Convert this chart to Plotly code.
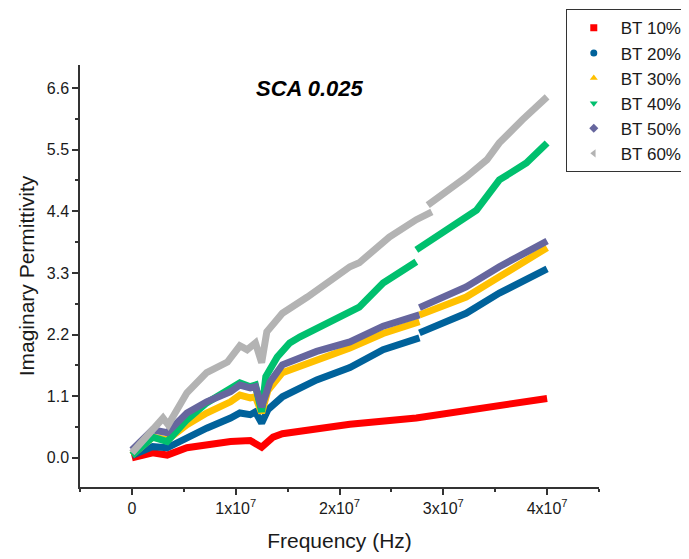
import plotly.graph_objects as go

# ---- data ----
x_bt10 = [0, 2.0e6, 3.4e6, 5.3e6, 9.5e6, 1.14e7, 1.25e7, 1.36e7, 1.45e7, 2.1e7, 2.74e7, 3.38e7, 4.0e7]
y_bt10 = [0.0, 0.09, 0.05, 0.18, 0.29, 0.31, 0.19, 0.37, 0.43, 0.60, 0.71, 0.88, 1.06]

x_bt20 = [0, 2.0e6, 3.4e6, 5.3e6, 7.2e6, 9.5e6, 1.04e7, 1.14e7, 1.19e7, 1.25e7, 1.31e7, 1.45e7,
          1.78e7, 2.1e7, 2.42e7, 2.77e7, None, 2.77e7, 3.22e7, 3.54e7, 4.0e7]
y_bt20 = [0.04, 0.20, 0.18, 0.37, 0.53, 0.71, 0.80, 0.77, 0.82, 0.62, 0.86, 1.09,
          1.39, 1.61, 1.93, 2.14, None, 2.23, 2.58, 2.94, 3.37]

x_bt30 = [0, 2.0e6, 3.4e6, 5.3e6, 7.2e6, 9.5e6, 1.04e7, 1.14e7, 1.19e7, 1.25e7, 1.31e7, 1.45e7,
          2.1e7, 2.42e7, 2.77e7, None, 2.77e7, 3.22e7, 3.54e7, 4.0e7]
y_bt30 = [0.05, 0.37, 0.32, 0.59, 0.80, 1.00, 1.12, 1.07, 1.09, 0.80, 1.20, 1.52,
          1.96, 2.22, 2.43, None, 2.55, 2.87, 3.23, 3.75]

x_bt40 = [0, 2.0e6, 3.4e6, 5.3e6, 7.2e6, 9.5e6, 1.04e7, 1.14e7, 1.19e7, 1.25e7, 1.29e7, 1.40e7,
          1.52e7, 1.62e7, 1.94e7, 2.13e7, 2.19e7, 2.42e7, 2.74e7, None, 2.74e7, 3.06e7, 3.32e7,
          3.54e7, 3.80e7, 4.0e7]
y_bt40 = [0.05, 0.37, 0.29, 0.68, 0.98, 1.25, 1.34, 1.27, 1.30, 0.82, 1.45, 1.80,
          2.05, 2.16, 2.46, 2.64, 2.69, 3.12, 3.50, None, 3.71, 4.12, 4.42,
          4.96, 5.26, 5.62]

x_bt50 = [0, 2.0e6, 3.4e6, 5.3e6, 7.2e6, 9.5e6, 1.04e7, 1.14e7, 1.19e7, 1.25e7, 1.33e7, 1.45e7,
          1.78e7, 2.1e7, 2.42e7, 2.77e7, None, 2.77e7, 3.22e7, 3.54e7, 4.0e7]
y_bt50 = [0.14, 0.50, 0.45, 0.80, 1.00, 1.18, 1.30, 1.25, 1.27, 0.91, 1.35, 1.66,
          1.90, 2.07, 2.35, 2.55, None, 2.68, 3.05, 3.41, 3.87]

x_bt60 = [0, 2.0e6, 3.0e6, 3.5e6, 5.3e6, 7.2e6, 9.2e6, 1.04e7, 1.11e7, 1.19e7, 1.25e7, 1.30e7,
          1.45e7, 1.69e7, 2.10e7, 2.19e7, 2.48e7, 2.74e7, 2.89e7, None, 2.85e7, 3.22e7, 3.42e7,
          3.54e7, 3.76e7, 4.0e7]
y_bt60 = [0.09, 0.50, 0.71, 0.59, 1.16, 1.52, 1.71, 2.00, 1.93, 2.05, 1.70, 2.25,
          2.58, 2.87, 3.41, 3.48, 3.94, 4.25, 4.39, None, 4.51, 5.01, 5.32,
          5.62, 6.03, 6.44]

series_names = ["BT 10%", "BT 20%", "BT 30%", "BT 40%", "BT 50%", "BT 60%"]
x_ticks = [0, 1e7, 2e7, 3e7, 4e7]
x_tick_labels = ["0", "1x10<sup>7</sup>", "2x10<sup>7</sup>", "3x10<sup>7</sup>", "4x10<sup>7</sup>"]
y_ticks = [0.0, 1.1, 2.2, 3.3, 4.4, 5.5, 6.6]
y_tick_labels = ["0.0", "1.1", "2.2", "3.3", "4.4", "5.5", "6.6"]

colors = ["#FF0000", "#00629B", "#FFC000", "#00C06E", "#66669E", "#B3B3B3"]
symbols = ["square", "circle", "triangle-up", "triangle-down", "diamond", "triangle-left"]
xs = [x_bt10, x_bt20, x_bt30, x_bt40, x_bt50, x_bt60]
ys = [y_bt10, y_bt20, y_bt30, y_bt40, y_bt50, y_bt60]

fig = go.Figure()
for name, x, y, c in zip(series_names, xs, ys, colors):
    fig.add_trace(go.Scatter(x=x, y=y, mode="lines", name=name, showlegend=False,
                             line=dict(color=c, width=7), connectgaps=False, hoverinfo="skip"))
for name, c, s in zip(series_names, colors, symbols):
    fig.add_trace(go.Scatter(x=[None], y=[None], mode="markers", name=name,
                             marker=dict(color=c, symbol=s, size=7)))

axis_color = "#333333"
fig.update_layout(
    width=689, height=559,
    margin=dict(l=72, r=98, t=57, b=80, autoexpand=False),
    paper_bgcolor="white", plot_bgcolor="white",
    font=dict(family="Liberation Sans, Arial, sans-serif", color="#1a1a1a"),
    showlegend=True,
    legend=dict(x=0.936, y=1.132, xanchor="left", yanchor="top",
                bordercolor="#333333", borderwidth=1, bgcolor="white", itemwidth=44,
                entrywidth=120, entrywidthmode="pixels",
                font=dict(size=17, color="#1a1a1a"), tracegroupgap=0),
    xaxis=dict(range=[-5e6, 4.5e7], tickmode="array", tickvals=x_ticks, ticktext=x_tick_labels,
               ticks="outside", ticklen=6, tickwidth=1.5, tickcolor=axis_color,
               showline=True, linecolor=axis_color, linewidth=1.5, showgrid=False, zeroline=False,
               tickfont=dict(size=16),
               minor=dict(tickvals=[-5e6, 5e6, 1.5e7, 2.5e7, 3.5e7, 4.5e7], ticks="outside",
                          ticklen=3, tickwidth=1.5, tickcolor=axis_color),
               title=dict(text="Frequency (Hz)", font=dict(size=21), standoff=17)),
    yaxis=dict(range=[-0.52, 7.01], tickmode="array", tickvals=y_ticks, ticktext=y_tick_labels,
               ticks="outside", ticklen=6, tickwidth=1.5, tickcolor=axis_color,
               showline=True, linecolor=axis_color, linewidth=1.5, showgrid=False, zeroline=False,
               tickfont=dict(size=16),
               minor=dict(tickvals=[0.55, 1.65, 2.75, 3.85, 4.95, 6.05], ticks="outside",
                          ticklen=3, tickwidth=1.5, tickcolor=axis_color),
               title=dict(text="Imaginary Permittivity", font=dict(size=21), standoff=6)),
    annotations=[dict(text="<b><i>SCA 0.025</i></b>", x=0.443, y=0.945, xref="paper", yref="paper",
                      xanchor="center", yanchor="middle",
                      showarrow=False, font=dict(size=22, color="#000000"))],
)

fig.write_html("out.html")
